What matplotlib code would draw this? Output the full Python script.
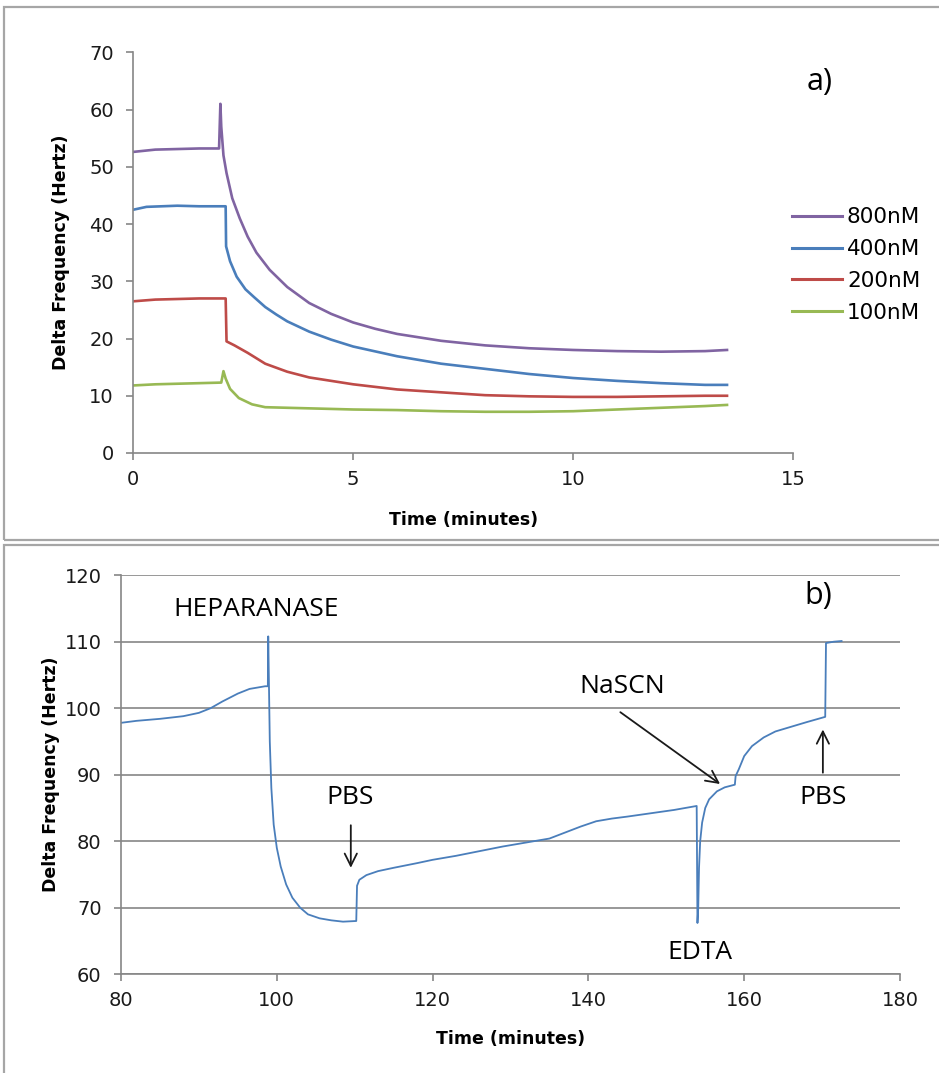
import matplotlib
matplotlib.use("Agg")
import matplotlib.pyplot as plt
from matplotlib.patches import Rectangle

# ---------------- data: panel a ----------------
t_800 = [0, 0.5, 1.0, 1.5, 1.95, 1.98, 2.0, 2.05, 2.12, 2.25, 2.42, 2.6, 2.8, 3.1, 3.5,
         4.0, 4.5, 5.0, 5.5, 6.0, 7.0, 8.0, 9.0, 10.0, 11.0, 12.0, 13.0, 13.5]
v_800 = [52.6, 53.0, 53.1, 53.2, 53.2, 61.0, 57.0, 52.0, 48.9, 44.5, 41.0, 37.8, 35.0, 32.0, 29.0,
         26.2, 24.3, 22.8, 21.7, 20.8, 19.6, 18.8, 18.3, 18.0, 17.8, 17.7, 17.8, 18.0]

t_400 = [0, 0.3, 1.0, 1.5, 2.1, 2.11, 2.2, 2.35, 2.55, 2.75, 3.0, 3.25, 3.5, 4.0, 4.5, 5.0, 6.0,
         7.0, 8.0, 9.0, 10.0, 11.0, 12.0, 13.0, 13.5]
v_400 = [42.5, 43.0, 43.2, 43.1, 43.1, 36.1, 33.5, 30.8, 28.6, 27.2, 25.5, 24.2, 23.0, 21.2, 19.8, 18.6, 16.9,
         15.6, 14.7, 13.8, 13.1, 12.6, 12.2, 11.9, 11.9]

t_200 = [0, 0.5, 1.0, 1.5, 2.1, 2.12, 2.3, 2.6, 3.0, 3.5, 4.0, 5.0, 6.0, 7.0, 8.0,
         9.0, 10.0, 11.0, 12.0, 13.0, 13.5]
v_200 = [26.5, 26.8, 26.9, 27.0, 27.0, 19.5, 18.8, 17.5, 15.6, 14.2, 13.2, 12.0, 11.1, 10.6, 10.1,
         9.9, 9.8, 9.8, 9.9, 10.0, 10.0]

t_100 = [0, 0.5, 1.0, 1.5, 2.0, 2.05, 2.1, 2.2, 2.4, 2.7, 3.0, 3.5, 4.0, 5.0, 6.0,
         7.0, 8.0, 9.0, 10.0, 11.0, 12.0, 13.0, 13.5]
v_100 = [11.8, 12.0, 12.1, 12.2, 12.3, 14.3, 13.0, 11.2, 9.6, 8.5, 8.0, 7.9, 7.8, 7.6, 7.5,
         7.3, 7.2, 7.2, 7.3, 7.6, 7.9, 8.2, 8.4]

labels_a = ["800nM", "400nM", "200nM", "100nM"]
colors_a = ["#8064A2", "#4A7EBB", "#BE4B48", "#98B954"]

# ---------------- data: panel b ----------------
t_b = [80, 82, 85, 88, 90, 91.5, 93, 95, 96.5, 98.5, 98.85, 98.9, 99.1, 99.3, 99.6, 100.0,
       100.5, 101.2, 102.0, 103.0, 104.0, 105.5, 107, 108.5, 110.2, 110.3, 110.6, 111.5,
       113, 115, 118, 120, 123, 126, 129, 132, 135, 137, 139, 141, 143, 145, 148, 151,
       153.9, 154.0, 154.1, 154.2, 154.35, 154.6, 155.0, 155.5, 156.5, 157.5, 158.8,
       158.9, 159.3, 160.0, 161.0, 162.5, 164.0, 166.0, 168.0, 170.4, 170.5, 171.5, 172.5]
v_b = [97.8, 98.1, 98.4, 98.8, 99.3, 100.0, 101.0, 102.2, 102.9, 103.3, 103.3, 110.8, 95.0,
       88.0, 82.5, 79.0, 76.2, 73.5, 71.5, 70.0, 69.0, 68.4, 68.1, 67.9, 68.0, 73.3, 74.2,
       74.9, 75.5, 76.0, 76.7, 77.2, 77.8, 78.5, 79.2, 79.8, 80.4, 81.3, 82.2, 83.0, 83.4,
       83.7, 84.2, 84.7, 85.3, 67.7, 70.0, 76.0, 80.0, 82.8, 85.0, 86.3, 87.5, 88.1, 88.5,
       89.8, 90.8, 92.8, 94.3, 95.6, 96.5, 97.2, 97.9, 98.7, 109.8, 110.0, 110.1]
color_b = "#4A7EBB"

xticks_a = [0, 5, 10, 15]
yticks_a = [0, 10, 20, 30, 40, 50, 60, 70]
xticks_b = [80, 100, 120, 140, 160, 180]
yticks_b = [60, 70, 80, 90, 100, 110, 120]

# ---------------- figure ----------------
W, H = 939, 1073
fig = plt.figure(figsize=(W / 100, H / 100), dpi=100)
fig.patch.set_facecolor("white")

frame_col = "#a6a6a6"
fig.patches.append(Rectangle((4 / W, 1 - 540 / H), 1.0, (540 - 7) / H, transform=fig.transFigure,
                             fill=False, ec=frame_col, lw=1.6))
fig.patches.append(Rectangle((4 / W, -0.01), 1.0, 0.01 + 1 - 545 / H, transform=fig.transFigure,
                             fill=False, ec=frame_col, lw=1.6))

axis_col = "#868686"
tick_fs = 14
lab_font = dict(fontsize=12.5, fontweight="bold")
ann_font = dict(fontsize=19, family=["Open Sans", "DejaVu Sans"])


def style_axes(ax):
    for s in ["top", "right"]:
        ax.spines[s].set_visible(False)
    for s in ["left", "bottom"]:
        ax.spines[s].set_color(axis_col)
        ax.spines[s].set_linewidth(1.2)
    ax.tick_params(direction="out", length=5, width=1.2, color=axis_col,
                   labelsize=tick_fs, labelcolor="#1a1a1a")
    ax.tick_params(axis="y", pad=9)
    ax.tick_params(axis="x", pad=7)


# panel a
axa = fig.add_axes([133.3 / W, 1 - 453 / H, (793 - 133.3) / W, (453 - 52.3) / H])
style_axes(axa)
for t, v, lab, c in zip([t_800, t_400, t_200, t_100], [v_800, v_400, v_200, v_100], labels_a, colors_a):
    axa.plot(t, v, color=c, lw=1.9, label=lab)
axa.set_xlim(0, 15)
axa.set_ylim(0, 70)
axa.set_xticks(xticks_a)
axa.set_yticks(yticks_a)
axa.set_xlabel("Time (minutes)", **lab_font)
axa.set_ylabel("Delta Frequency (Hertz)", **lab_font)
axa.yaxis.set_label_coords(-0.096, 0.5)
axa.xaxis.set_label_coords(0.5, -0.145)
leg = axa.legend(loc="center left", bbox_to_anchor=(792 / W, 1 - 265 / H), bbox_transform=fig.transFigure,
                 frameon=False, fontsize=15.5, handlelength=2.3, handletextpad=0.25,
                 labelspacing=0.55, borderaxespad=0, borderpad=0)
for line in leg.get_lines():
    line.set_linewidth(2.2)
fig.text(820 / W, 1 - 82 / H, "a)", fontsize=22, ha="center", va="center",
         family=["Open Sans", "DejaVu Sans"])

# panel b
axb = fig.add_axes([121 / W, 1 - 974.2 / H, (900 - 121) / W, (974.2 - 575.2) / H])
style_axes(axb)
axb.plot(t_b, v_b, color=color_b, lw=1.3)
axb.set_xlim(80, 180)
axb.set_ylim(60, 120)
axb.set_xticks(xticks_b)
axb.set_yticks(yticks_b)
axb.yaxis.grid(True, color=axis_col, lw=1.2)
axb.set_axisbelow(True)
axb.set_xlabel("Time (minutes)", **lab_font)
axb.set_ylabel("Delta Frequency (Hertz)", **lab_font)
axb.yaxis.set_label_coords(-0.078, 0.5)
axb.xaxis.set_label_coords(0.5, -0.14)

arrow = dict(arrowstyle="->", color="#1a1a1a", lw=1.3, mutation_scale=22, shrinkA=0, shrinkB=0)
axb.text(97.3, 114.9, "HEPARANASE", ha="center", va="center", **ann_font)
axb.text(109.4, 86.5, "PBS", ha="center", va="center", **ann_font)
axb.annotate("", xy=(109.5, 76.0), xytext=(109.5, 82.4), arrowprops=arrow)
axb.text(144.3, 103.3, "NaSCN", ha="center", va="center", **ann_font)
axb.annotate("", xy=(156.9, 88.6), xytext=(144.1, 99.4), arrowprops=arrow)
axb.text(154.3, 63.3, "EDTA", ha="center", va="center", **ann_font)
axb.text(170.1, 86.5, "PBS", ha="center", va="center", **ann_font)
axb.annotate("", xy=(170.1, 96.8), xytext=(170.1, 90.3), arrowprops=arrow)
axb.text(169.5, 116.9, "b)", ha="center", va="center", fontsize=22, family=["Open Sans", "DejaVu Sans"])

fig.savefig("out.png", dpi=100)
